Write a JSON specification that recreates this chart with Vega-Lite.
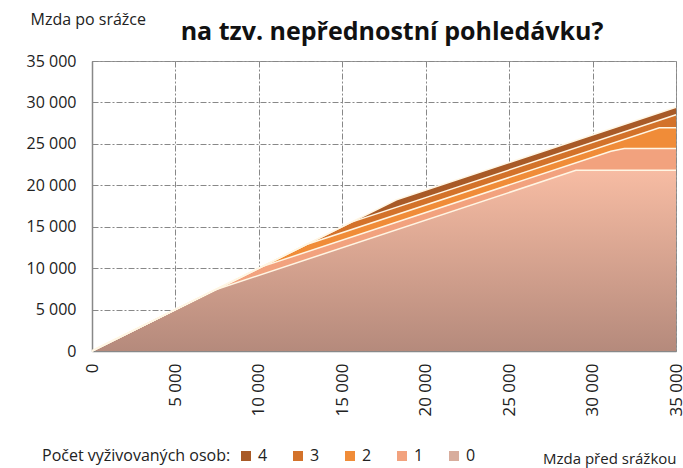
{
  "$schema": "https://vega.github.io/schema/vega-lite/v6.json",
  "width": 584,
  "height": 290,
  "autosize": "none",
  "padding": {"left": 92, "top": 61, "right": 7, "bottom": 117},
  "background": "white",
  "title": {
    "text": "na tzv. nepřednostní pohledávku?",
    "fontSize": 25,
    "fontWeight": "bold",
    "font": "Open Sans",
    "color": "#111111",
    "anchor": "middle",
    "frame": "group",
    "baseline": "alphabetic",
    "dx": 8,
    "offset": -54
  },
  "config": {
    "font": "Open Sans",
    "locale": {"number": {"decimal": ",", "thousands": " ", "grouping": [3], "currency": ["", " Kč"]}},
    "view": {"stroke": "#999999", "strokeWidth": 1},
    "axis": {
      "labelFont": "Open Sans",
      "titleFont": "Open Sans",
      "labelColor": "#222222",
      "titleColor": "#222222",
      "titleFontWeight": "normal",
      "domainColor": "#888888",
      "domainWidth": 1.5,
      "ticks": false,
      "tickSize": 0,
      "gridColor": "#888888",
      "gridWidth": 1,
      "gridDash": [6, 2, 2, 2],
      "labelOverlap": false,
      "labelBound": false,
      "labelFlush": false
    },
    "legend": {
      "labelFont": "Open Sans",
      "titleFont": "Open Sans"
    }
  },
  "datasets": {
    "mzdy": [
      {"k": "4", "x": 0, "y": 0},
      {"k": "4", "x": 18250, "y": 18250},
      {"k": "4", "x": 35000, "y": 29417},
      {"k": "3", "x": 0, "y": 0},
      {"k": "3", "x": 15550, "y": 15550},
      {"k": "3", "x": 35000, "y": 28517},
      {"k": "2", "x": 0, "y": 0},
      {"k": "2", "x": 12850, "y": 12850},
      {"k": "2", "x": 34000, "y": 26950},
      {"k": "2", "x": 35000, "y": 26950},
      {"k": "1", "x": 0, "y": 0},
      {"k": "1", "x": 10150, "y": 10150},
      {"k": "1", "x": 31100, "y": 24117},
      {"k": "1", "x": 31900, "y": 24430},
      {"k": "1", "x": 35000, "y": 24430},
      {"k": "0", "x": 0, "y": 0},
      {"k": "0", "x": 7400, "y": 7400},
      {"k": "0", "x": 29000, "y": 21800},
      {"k": "0", "x": 35000, "y": 21800}
    ]
  },
  "data": {"name": "mzdy"},
  "encoding": {
    "x": {
      "field": "x",
      "type": "quantitative",
      "scale": {"domain": [0, 35000], "nice": false},
      "axis": {
        "values": [0, 5000, 10000, 15000, 20000, 25000, 30000, 35000],
        "format": ",d",
        "labelAngle": -90,
        "labelFontSize": 17,
        "labelPadding": 12,
        "title": "Mzda před srážkou",
        "titleFontSize": 15,
        "titleAnchor": "end",
        "titleAlign": "right",
        "titleBaseline": "alphabetic",
        "titleX": 584,
        "titleY": 112
      }
    },
    "y": {
      "field": "y",
      "type": "quantitative",
      "scale": {"domain": [0, 35000], "nice": false},
      "axis": {
        "values": [0, 5000, 10000, 15000, 20000, 25000, 30000, 35000],
        "format": ",d",
        "labelFontSize": 16,
        "labelPadding": 16,
        "title": "Mzda po srážce",
        "titleFontSize": 16,
        "titleAngle": 0,
        "titleAlign": "left",
        "titleBaseline": "alphabetic",
        "titleX": -62,
        "titleY": -37
      }
    }
  },
  "layer": [
    {
      "transform": [{"filter": "datum.k == '4'"}],
      "mark": {"type": "area"},
      "encoding": {
        "color": {
          "field": "k",
          "type": "nominal",
          "scale": {"domain": ["4", "3", "2", "1", "0"], "range": ["#a85a27", "#d3722a", "#f08c38", "#f2a27e", "#d8ad9d"]},
          "legend": {
            "title": "Počet vyživovaných osob:",
            "orient": "none",
            "direction": "horizontal",
            "legendX": -50,
            "legendY": 387,
            "titleOrient": "left",
            "titleFontSize": 16,
            "titleFontWeight": "normal",
            "titleColor": "#222222",
            "titleLimit": 400,
            "titlePadding": 7,
            "titleBaseline": "middle",
            "labelFontSize": 16,
            "labelColor": "#222222",
            "symbolType": "square",
            "symbolSize": 100,
            "symbolStrokeWidth": 0,
            "labelOffset": 4,
            "columnPadding": 22
          }
        }
      }
    },
    {
      "transform": [{"filter": "datum.k == '3'"}],
      "mark": {"type": "area"},
      "encoding": {"color": {"field": "k", "type": "nominal"}}
    },
    {
      "transform": [{"filter": "datum.k == '2'"}],
      "mark": {"type": "area"},
      "encoding": {"color": {"field": "k", "type": "nominal"}}
    },
    {
      "transform": [{"filter": "datum.k == '1'"}],
      "mark": {"type": "area"},
      "encoding": {"color": {"field": "k", "type": "nominal"}}
    },
    {
      "transform": [{"filter": "datum.k == '0'"}],
      "mark": {
        "type": "area",
        "color": {
          "gradient": "linear",
          "x1": 0, "y1": 0, "x2": 0, "y2": 1,
          "stops": [
            {"offset": 0, "color": "#f7bca3"},
            {"offset": 1, "color": "#b58a7c"}
          ]
        }
      },
      "encoding": {}
    },
    {
      "mark": {"type": "line", "color": "#fff6e4", "strokeWidth": 1.5},
      "encoding": {"detail": {"field": "k", "type": "nominal"}}
    }
  ]
}
